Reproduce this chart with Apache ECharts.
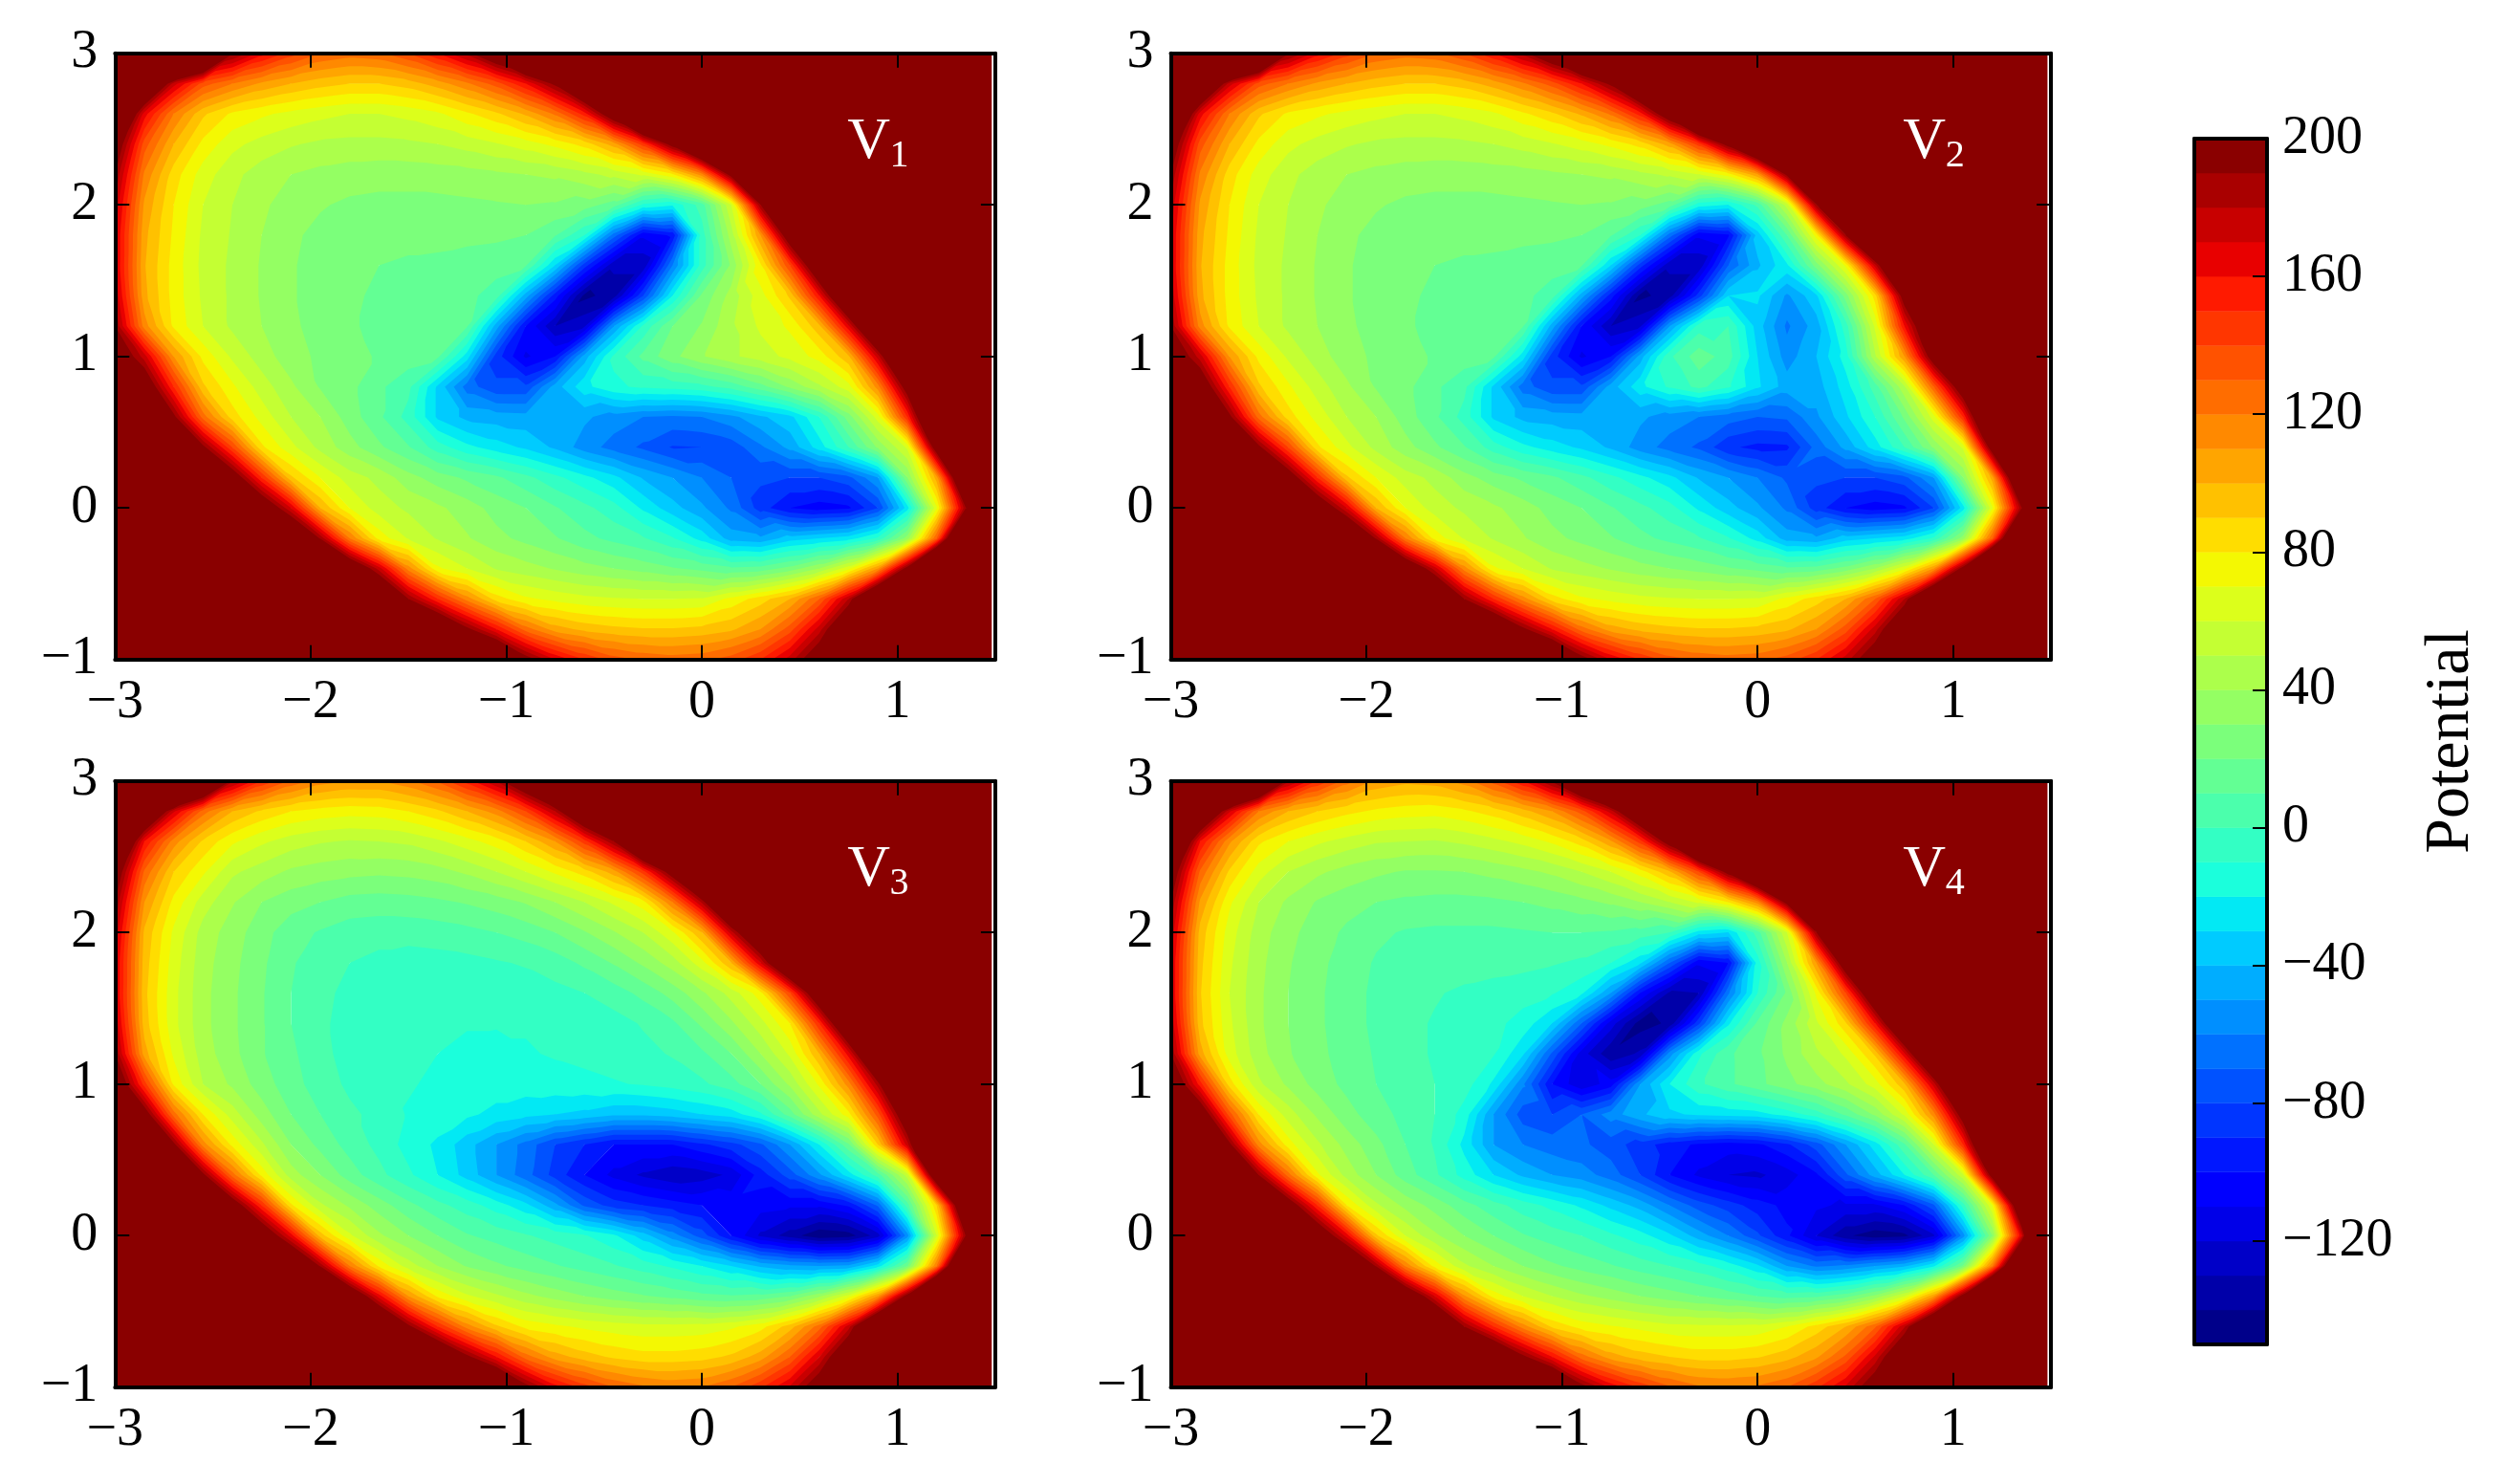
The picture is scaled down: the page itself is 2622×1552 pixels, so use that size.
<!DOCTYPE html>
<html>
<head>
<meta charset="utf-8">
<title>Potential</title>
<script src="https://cdn.jsdelivr.net/npm/echarts@6/dist/echarts.min.js"></script>
<style>
	html, body { margin: 0; padding: 0; background: #fff; }
	#chart { width: 2622px; height: 1552px; }
</style>
</head>
<body>
<div id="chart"></div>
<script>
const xValues = [-3, -2.85, -2.7, -2.55, -2.4, -2.25, -2.1, -1.95, -1.8, -1.65, -1.5, -1.35, -1.2, -1.05, -0.9, -0.75, -0.6, -0.45, -0.3, -0.15, 0, 0.15, 0.3, 0.45, 0.6, 0.75, 0.9, 1.05, 1.2, 1.35, 1.5];
const yValues = [3, 2.8, 2.6, 2.4, 2.2, 2, 1.8, 1.6, 1.4, 1.2, 1, 0.8, 0.6, 0.4, 0.2, 0, -0.2, -0.4, -0.6, -0.8, -1];
const levels = [-150, -140, -130, -120, -110, -100, -90, -80, -70, -60, -50, -40, -30, -20, -10, 0, 10, 20, 30, 40, 50, 60, 70, 80, 90, 100, 110, 120, 130, 140, 150, 160, 170, 180, 190, 200];
const xTicks = [-3, -2, -1, 0, 1];
const yTicks = [-1, 0, 1, 2, 3];
const barTicks = [-120, -80, -40, 0, 40, 80, 120, 160, 200];
const panelNames = ['1', '2', '3', '4'];
const nameSpot = [0.853, 2.3];
const dataXEnd = 1.482;
// cells missing at the right end of a row are far outside the basin
const outside = 400;

// rows run from y = 3 down to y = -1
const v1 = [
	[500,450,380,290,195,165,145,130,125,128,140,160,185,220,270,320,380],
	[350,250,175,135,120,108,100,94,90,90,95,105,118,135,160,195,250,310,380],
	[260,165,120,92,78,72,67,63,60,60,63,68,78,88,102,122,155,215,300,370],
	[210,135,100,77,63,56,51,48,47,47,48,50,54,59,65,73,84,105,145,200,270,340],
	[190,118,85,65,53,45,40,37,35,34,34,35,36,38,40,42,47,53,62,78,115,200,300,380],
	[178,108,80,60,50,42,35,31,28,27,27,27,28,29,30,29,25,15,-12,-18,5,60,190,280,360],
	[172,103,78,58,49,40,32,27,25,24,24,24,23,22,20,11,-10,-65,-108,-98,-5,45,110,215,310,390],
	[172,101,76,57,48,39,31,26,23,20,18,17,15,14,11,-30,-85,-128,-128,-60,-5,32,78,140,230,320,395],
	[178,103,76,58,48,39,31,26,22,18,16,15,13,5,-45,-95,-143,-135,-80,-20,22,44,66,92,160,250,340],
	[190,115,78,60,48,40,32,26,21,18,15,13,11,-45,-100,-130,-122,-50,-8,20,31,48,62,72,97,168,260,350],
	[215,175,110,77,58,45,34,28,23,19,15,12,-25,-85,-112,-100,-45,-8,13,27,39,48,55,63,74,98,175,270,360],
	[280,215,150,92,72,55,42,29,23,12,3,-32,-65,-78,-78,-45,-23,-12,-8,-6,-3,4,16,32,48,66,115,205,310],
	[350,255,195,125,85,66,50,40,25,12,-4,-32,-43,-45,-46,-47,-48,-55,-60,-62,-60,-53,-42,-33,-10,25,65,150,270],
	[430,330,250,195,140,82,63,47,34,22,11,-5,-17,-25,-32,-42,-55,-64,-72,-81,-80,-76,-62,-47,-25,0,32,62,210,400],
	[500,420,340,270,210,150,92,70,55,47,34,25,18,12,3,-7,-17,-27,-41,-50,-60,-70,-78,-80,-80,-73,-50,30,105,260],
	[500,480,420,340,280,220,170,100,70,55,48,42,35,26,20,11,3,-6,-22,-36,-48,-62,-85,-100,-105,-102,-80,-25,68,190],
	[500,500,480,420,360,300,245,188,120,76,59,49,41,33,27,21,13,7,1,-9,-24,-45,-48,-35,-30,-25,-8,35,130,300],
	[500,500,500,500,460,400,340,280,225,175,115,72,60,49,44,39,34,30,26,21,17,12,14,24,40,67,110,200,340],
	[500,500,500,500,500,480,430,370,310,250,190,150,115,85,72,67,63,61,60,60,61,73,85,100,130,180,260,340],
	[500,500,500,500,500,500,500,480,420,360,300,240,195,160,125,105,97,93,91,91,93,98,110,135,175,230,310],
	[500,500,500,500,500,500,500,500,500,500,450,380,310,250,200,170,150,135,128,125,127,135,150,175,210,270,340]
];
const v2 = [
	[500,450,380,290,195,165,145,130,125,128,140,160,185,220,270,320,380],
	[350,250,175,135,120,108,100,94,90,90,95,105,118,135,160,195,250,310,380],
	[260,165,120,92,78,72,67,63,60,60,63,68,78,88,102,122,155,215,300,370],
	[210,135,100,77,63,56,51,48,47,47,48,50,54,59,65,73,84,105,145,200,270,340],
	[190,118,85,65,53,45,40,37,35,34,34,35,36,38,40,42,47,52,60,75,108,195,300,380],
	[178,108,80,60,50,42,35,31,28,27,27,27,28,29,30,29,25,15,-15,-20,3,55,190,280,360],
	[172,103,78,58,49,40,32,27,25,24,24,24,23,22,20,11,-10,-65,-108,-102,-35,10,75,190,290,380],
	[172,101,76,57,48,39,31,26,23,20,18,17,15,14,11,-30,-85,-128,-128,-70,-42,-22,25,72,175,280,370],
	[178,103,76,58,48,39,31,26,22,18,16,15,13,5,-45,-95,-143,-135,-85,-30,-28,-52,-32,25,85,205,300,390],
	[190,115,78,60,48,40,32,26,21,18,15,13,11,-45,-100,-130,-122,-50,-5,0,-35,-62,-45,-5,62,160,240,340],
	[215,175,110,77,58,45,34,28,23,19,15,12,-25,-85,-112,-100,-45,-2,16,5,-30,-55,-40,-15,48,110,210,300,390],
	[280,215,150,92,72,55,42,29,23,12,3,-32,-65,-78,-78,-45,-23,-8,3,-8,-28,-45,-45,-25,5,48,130,215,320],
	[350,255,195,125,85,66,50,40,25,12,-4,-32,-43,-45,-46,-47,-48,-55,-60,-65,-70,-68,-52,-32,-10,22,65,150,270],
	[430,330,250,195,140,82,63,47,34,22,11,-5,-17,-25,-32,-42,-55,-64,-72,-88,-93,-92,-66,-47,-25,0,32,62,210,400],
	[500,420,340,270,210,150,92,70,55,47,34,25,18,12,3,-7,-17,-27,-41,-50,-60,-72,-78,-80,-80,-73,-50,30,105,260],
	[500,480,420,340,280,220,170,100,70,55,48,42,35,26,20,11,3,-6,-22,-36,-48,-62,-85,-100,-105,-102,-80,-25,68,190],
	[500,500,480,420,360,300,245,188,120,76,59,49,41,33,27,21,13,7,1,-9,-24,-45,-48,-35,-30,-25,-8,35,130,300],
	[500,500,500,500,460,400,340,280,225,175,115,72,60,49,44,39,34,30,26,21,17,12,14,24,40,67,110,200,340],
	[500,500,500,500,500,480,430,370,310,250,190,150,115,85,72,67,63,61,60,60,61,73,85,100,130,180,260,340],
	[500,500,500,500,500,500,500,480,420,360,300,240,195,160,125,105,97,93,91,91,93,98,110,135,175,230,310],
	[500,500,500,500,500,500,500,500,500,500,450,380,310,250,200,170,150,135,128,125,127,135,150,175,210,270,340]
];
const v3 = [
	[500,450,370,270,185,150,128,115,110,110,118,132,155,182,225,280,340],
	[350,245,172,125,100,88,80,76,74,75,80,88,100,115,140,180,240,310,380],
	[260,160,115,88,72,62,55,51,49,50,52,58,66,75,90,110,145,190,270,350],
	[210,128,90,72,52,45,38,35,33,32,33,36,42,50,60,72,85,105,145,205,280,350],
	[190,110,77,55,41,30,24,20,16,15,16,18,21,25,31,40,50,62,76,120,182,265,345],
	[178,98,68,46,35,24,14,9,5,4,4,5,7,10,14,20,29,39,50,68,100,175,240,320,390],
	[172,95,65,44,33,22,11,5,0,-3,-5,-4,-3,-1,1,5,12,21,32,45,66,100,170,250,330],
	[172,93,63,43,32,21,10,3,-3,-6,-7,-8,-7,-6,-5,-3,0,5,13,24,38,54,76,140,225,310,390],
	[178,95,63,43,32,21,10,2,-4,-7,-8,-9,-9,-9,-9,-9,-7,-4,1,8,22,38,56,80,150,240,330],
	[190,105,68,45,33,21,12,3,-4,-7,-8,-10,-13,-14,-11,-9,-7,-5,-3,1,8,20,40,62,100,165,260,350],
	[220,145,78,50,38,25,14,5,-2,-6,-9,-12,-15,-15,-15,-14,-13,-11,-9,-6,-2,6,20,42,72,115,185,280,370],
	[300,205,125,80,55,35,20,10,2,-3,-11,-14,-18,-23,-27,-30,-33,-38,-38,-35,-30,-25,-12,15,47,76,135,220,320],
	[350,255,195,115,77,52,30,17,6,-3,-14,-22,-36,-50,-64,-80,-90,-100,-100,-100,-92,-84,-72,-50,-20,18,90,175,290],
	[430,330,250,195,125,77,45,30,15,3,-8,-20,-34,-50,-66,-84,-100,-113,-122,-128,-125,-118,-95,-75,-52,-25,5,55,230,400],
	[500,420,340,270,210,150,82,52,38,25,13,3,-5,-15,-27,-47,-72,-85,-90,-95,-100,-103,-106,-108,-108,-98,-68,5,90,250],
	[500,480,420,340,280,220,165,95,62,42,30,20,11,6,1,-4,-9,-18,-35,-55,-75,-100,-122,-135,-148,-145,-125,-55,60,192],
	[500,500,480,420,360,300,245,188,120,78,55,40,29,22,16,11,6,1,-5,-12,-20,-30,-42,-48,-50,-48,-25,20,120,300],
	[500,500,500,500,460,400,340,280,225,165,110,78,62,52,43,36,30,25,21,17,13,11,13,20,38,65,110,200,340],
	[500,500,500,500,500,480,430,370,310,250,195,150,115,92,77,72,68,65,63,63,64,68,76,95,125,175,260,340],
	[500,500,500,500,500,500,500,480,420,360,300,240,195,160,125,105,95,88,84,84,86,92,105,130,170,225,310],
	[500,500,500,500,500,500,500,500,500,500,450,380,310,250,198,165,145,130,122,118,120,130,148,172,208,270,340]
];
const v4 = [
	[500,450,370,280,185,150,125,108,103,105,115,135,160,195,250,310,370],
	[350,245,172,120,100,90,83,78,75,74,78,85,96,110,135,175,235,300,375],
	[260,160,112,82,70,62,56,51,50,49,52,57,63,72,85,108,145,205,290,365],
	[210,128,88,65,50,42,36,32,29,29,30,33,37,42,50,60,75,98,140,200,270,340],
	[190,108,72,50,38,29,24,20,18,17,17,18,20,23,27,32,40,50,62,80,115,200,300,380],
	[178,96,65,45,33,25,18,12,9,8,8,8,9,10,10,9,6,0,-25,-30,5,60,190,280,360],
	[172,93,62,43,31,23,15,9,6,5,5,4,3,1,-2,-10,-28,-70,-108,-100,-15,40,110,215,310,390],
	[172,91,60,42,30,22,14,8,4,1,-2,-4,-6,-9,-18,-50,-100,-132,-130,-62,-10,22,72,140,230,320,395],
	[178,93,62,42,30,22,14,8,3,-1,-5,-7,-14,-30,-70,-115,-145,-138,-82,-22,12,33,58,88,160,250,340],
	[190,105,65,44,31,23,15,9,3,-1,-4,-9,-28,-72,-115,-138,-128,-55,-12,8,18,32,48,62,92,168,260,350],
	[220,155,85,52,38,26,17,10,4,0,-5,-22,-58,-100,-118,-105,-50,-20,-2,8,17,27,36,48,65,98,175,270,360],
	[290,215,135,80,55,38,24,14,7,0,-14,-50,-75,-80,-70,-55,-42,-32,-28,-26,-24,-16,-5,12,32,62,115,205,310],
	[350,255,195,115,75,52,36,23,10,-1,-23,-50,-60,-65,-68,-75,-85,-95,-102,-105,-102,-92,-75,-50,-25,8,60,150,270],
	[430,330,250,190,125,72,46,30,15,2,-14,-30,-42,-50,-55,-65,-80,-100,-112,-120,-122,-115,-102,-72,-45,-20,10,58,205,400],
	[500,420,340,270,210,150,80,52,37,26,14,4,-5,-13,-22,-33,-44,-60,-75,-85,-95,-103,-108,-112,-112,-100,-72,-5,70,240],
	[500,480,420,340,280,220,165,92,60,42,30,20,11,5,0,-8,-16,-28,-45,-60,-78,-98,-120,-138,-146,-143,-122,-55,30,170],
	[500,500,480,420,360,300,245,188,118,76,52,40,30,22,16,11,5,0,-6,-15,-28,-50,-62,-58,-50,-42,-22,22,120,290],
	[500,500,500,500,460,400,340,280,225,170,112,76,60,50,42,36,30,25,20,15,10,6,8,16,33,60,108,200,340],
	[500,500,500,500,500,480,430,370,310,250,190,150,115,88,76,71,67,63,62,62,63,70,84,100,128,178,255,335],
	[500,500,500,500,500,500,500,480,420,360,300,240,195,160,125,105,95,90,86,86,89,96,108,132,172,228,310],
	[500,500,500,500,500,500,500,500,500,500,450,380,310,250,198,168,148,132,122,120,122,130,148,172,208,270,340]
];
const panels = [v1, v2, v3, v4];

const FONT = '"Liberation Serif", "DejaVu Serif", serif';
const panelLefts = [120.3, 1224.5];
const panelTops = [55.7, 816.7];
const panelWidth = 920.6;
const panelHeight = 634;
const barBox = { left: 2295, top: 145, width: 76, height: 1261 };

const ramp = (t, stops) => {
	for (let i = 1; i < stops.length; i++) {
		if (t <= stops[i][0]) {
			const [t0, c0] = stops[i - 1];
			const [t1, c1] = stops[i];
			return c0 + (c1 - c0) * (t - t0) / (t1 - t0);
		}
	}
	return stops[stops.length - 1][1];
};
const jet = (t) => {
	const r = ramp(t, [[0, 0], [0.35, 0], [0.66, 1], [0.89, 1], [1, 0.54]]);
	const g = ramp(t, [[0, 0], [0.125, 0], [0.375, 1], [0.64, 1], [0.91, 0], [1, 0]]);
	const b = ramp(t, [[0, 0.54], [0.11, 1], [0.34, 1], [0.65, 0], [1, 0]]);
	return `rgb(${Math.round(r * 255)},${Math.round(g * 255)},${Math.round(b * 255)})`;
};
const bandColors = levels.slice(0, -1).map((l, i) => jet(i / (levels.length - 2)));

// part of a triangle at or above a level
const clipAbove = (tri, level) => {
	const out = [];
	tri.forEach((p, i) => {
		const q = tri[(i + 1) % 3];
		if (p[2] >= level) out.push(p);
		if ((p[2] >= level) !== (q[2] >= level)) {
			const k = (level - p[2]) / (q[2] - p[2]);
			out.push([p[0] + (q[0] - p[0]) * k, p[1] + (q[1] - p[1]) * k, level]);
		}
	});
	return out;
};

// filled contours: for each band, the triangles of the grid that reach it.
// each cell is cut along the diagonal whose corners are closest in value,
// so the contours follow the valleys and the steep rim
const buildBands = (grid) => {
	const at = (r, c) => {
		const v = grid[r][c];
		return [xValues[c], yValues[r], v === undefined ? outside : v];
	};
	const bands = bandColors.map(() => []);
	for (let r = 0; r < yValues.length - 1; r++) {
		for (let c = 0; c < xValues.length - 1; c++) {
			const tl = at(r, c);
			const tr = at(r, c + 1);
			const bl = at(r + 1, c);
			const br = at(r + 1, c + 1);
			const alongRising = Math.abs(bl[2] - tr[2]) <= Math.abs(tl[2] - br[2]);
			const tris = alongRising ? [[bl, tr, tl], [bl, br, tr]] : [[tl, bl, br], [tl, br, tr]];
			tris.forEach((tri) => {
				const lo = Math.min(tri[0][2], tri[1][2], tri[2][2]);
				bandColors.forEach((color, i) => {
					const covered = i < bandColors.length - 1 && lo >= levels[i + 1];
					if (covered) return;
					const poly = i === 0 ? tri : clipAbove(tri, levels[i]);
					if (poly.length > 2) bands[i].push(poly);
				});
			});
		}
	}
	return bands;
};

const fmt = (v) => String(v).replace('-', '\u2212');

const makeAxis = (gridIndex, position, min, max, ticks, withLabels) => ({
	type: 'value',
	gridIndex,
	position,
	min,
	max,
	z: 10,
	splitLine: { show: false },
	axisLine: { show: true, onZero: false, lineStyle: { color: '#000', width: 4 } },
	axisTick: { show: ticks.length > 0, inside: true, length: 15, customValues: ticks, lineStyle: { color: '#000', width: 2 } },
	axisLabel: {
		show: withLabels,
		inside: false,
		customValues: ticks,
		margin: 18,
		hideOverlap: false,
		color: '#000',
		fontFamily: FONT,
		fontSize: 56,
		formatter: fmt
	}
});

const grids = [];
const xAxes = [];
const yAxes = [];
const series = [];

panels.forEach((grid, p) => {
	grids.push({
		left: panelLefts[p % 2],
		top: panelTops[p >> 1],
		width: panelWidth,
		height: panelHeight
	});
	xAxes.push(makeAxis(p, 'bottom', -3, 1.5, xTicks, true), makeAxis(p, 'top', -3, 1.5, xTicks, false));
	yAxes.push(makeAxis(p, 'left', -1, 3, yTicks, true), makeAxis(p, 'right', -1, 3, yTicks, false));
	const bands = buildBands(grid);
	const axisRef = { xAxisIndex: p * 2, yAxisIndex: p * 2 };
	series.push({
		type: 'custom',
		...axisRef,
		silent: true,
		animation: false,
		progressive: 0,
		clip: true,
		z: 2,
		data: bands.map((b, i) => [i]),
		renderItem: (params, api) => {
			const d = bands[params.dataIndex].map((poly) => {
				const pts = poly.map((pt) => {
					const c = api.coord([pt[0], pt[1]]);
					return `${c[0].toFixed(2)} ${c[1].toFixed(2)}`;
				});
				return `M${pts.join('L')}Z`;
			}).join('');
			if (!d) return null;
			return {
				type: 'path',
				shape: { pathData: d },
				style: { fill: bandColors[params.dataIndex], stroke: null }
			};
		}
	});
	// the field stops a little short of the right frame
	series.push({
		type: 'custom',
		...axisRef,
		silent: true,
		animation: false,
		z: 3,
		data: [[dataXEnd, 3]],
		renderItem: (params, api) => {
			const a = api.coord([dataXEnd, 3]);
			const b = api.coord([1.5, -1]);
			return {
				type: 'rect',
				shape: { x: a[0], y: a[1], width: b[0] - a[0], height: b[1] - a[1] },
				style: { fill: '#fff' }
			};
		}
	});
	series.push({
		type: 'custom',
		...axisRef,
		silent: true,
		animation: false,
		z: 4,
		data: [nameSpot],
		renderItem: (params, api) => {
			const c = api.coord(nameSpot);
			return {
				type: 'group',
				children: [
					{
						type: 'text',
						x: c[0],
						y: c[1] + 13,
						style: { text: 'V', fill: '#fff', font: `62px ${FONT}`, align: 'center', verticalAlign: 'bottom' }
					},
					{
						type: 'text',
						x: c[0] + 22,
						y: c[1] + 17,
						style: { text: panelNames[p], fill: '#fff', font: `40px ${FONT}`, align: 'left', verticalAlign: 'bottom' }
					}
				]
			};
		}
	});
});

// colour bar
grids.push(barBox);
xAxes.push(makeAxis(4, 'bottom', 0, 1, [], false), makeAxis(4, 'top', 0, 1, [], false));
yAxes.push(makeAxis(4, 'left', -150, 200, [], false), makeAxis(4, 'right', -150, 200, barTicks, true));
yAxes[9].axisLabel.margin = 16;
yAxes[9].name = 'Potential';
yAxes[9].nameLocation = 'middle';
yAxes[9].nameGap = 160;
yAxes[9].nameRotate = 90;
yAxes[9].nameTextStyle = { color: '#000', fontFamily: FONT, fontSize: 66 };
series.push({
	type: 'custom',
	xAxisIndex: 8,
	yAxisIndex: 8,
	silent: true,
	animation: false,
	z: 2,
	data: bandColors.map((c, i) => [0, levels[i]]),
	renderItem: (params, api) => {
		const i = params.dataIndex;
		const a = api.coord([0, levels[i + 1]]);
		const b = api.coord([1, levels[i]]);
		return {
			type: 'rect',
			shape: { x: a[0], y: a[1], width: b[0] - a[0], height: b[1] - a[1] },
			style: { fill: bandColors[i], stroke: bandColors[i], lineWidth: 0.5 }
		};
	}
});

const chart = echarts.init(document.getElementById('chart'), null, { renderer: 'canvas' });
chart.setOption({
	animation: false,
	backgroundColor: '#fff',
	grid: grids,
	xAxis: xAxes,
	yAxis: yAxes,
	series
});
</script>
</body>
</html>
